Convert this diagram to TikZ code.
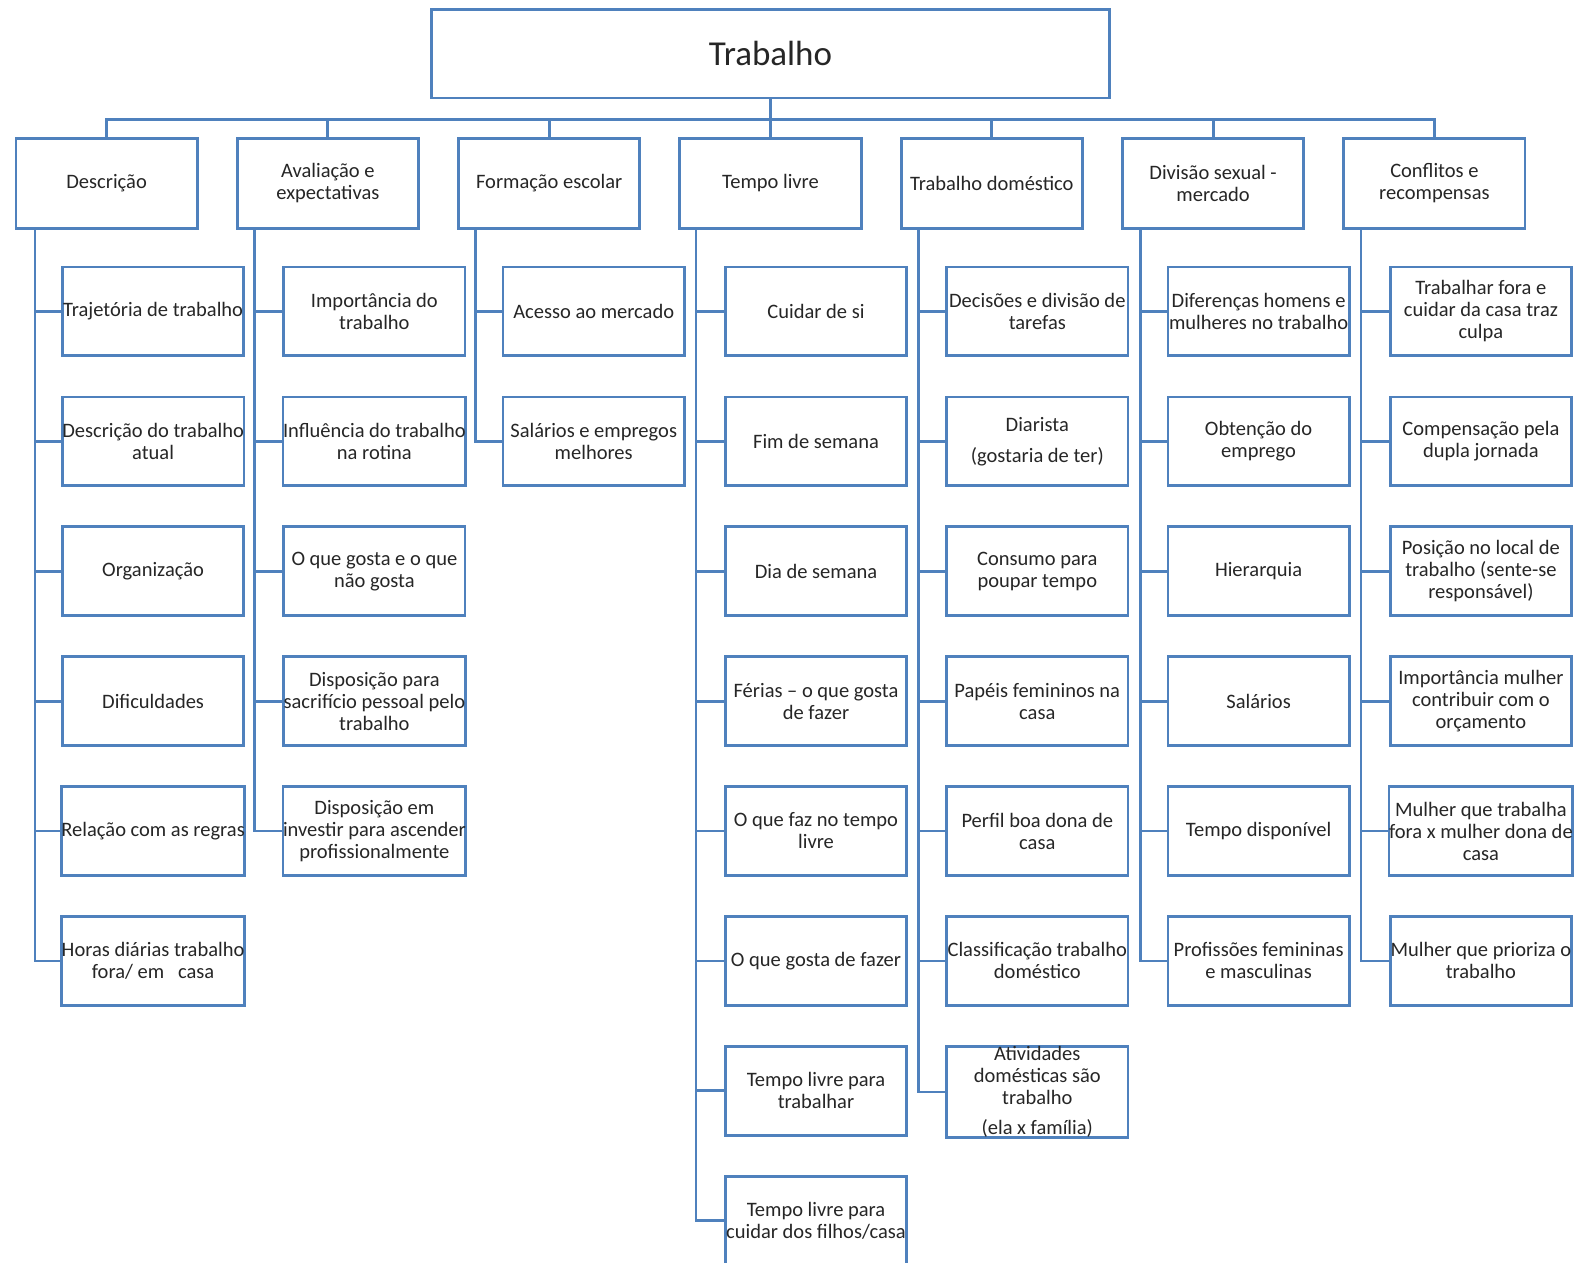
\documentclass[tikz,border=0pt]{standalone}
\usepackage{fontspec}
\setmainfont{Carlito}
\usepackage{tikz}
\usetikzlibrary{positioning}
\definecolor{Frame}{HTML}{4F81BD}
\definecolor{Ink}{HTML}{262626}
\tikzset{
  topbox/.style={
    draw=Frame,line width=2.8pt,fill=white,
    minimum width=678.5pt,minimum height=88.8pt,
    font=\fontsize{35}{40}\selectfont,text=Ink
  },
  groupbox/.style={
    draw=Frame,line width=2.8pt,fill=white,inner sep=0pt,
    minimum width=181.2pt,minimum height=89.5pt,align=center,
    font=\fontsize{20.5}{22}\selectfont,text=Ink
  },
  leaf/.style={groupbox,minimum height=88.8pt},
  link/.style={draw=Frame,line width=2.8pt}
}

\begin{document}
\begin{tikzpicture}[x=1pt,y=1pt,node distance=38.3pt]
  \useasboundingbox (-770.5,53.5) rectangle (811.5,-1208.5);
  \node[topbox] (root) at (0,0) {Trabalho};

  % themes
  \node[groupbox,below=38pt of root] (tempo) {Tempo livre};
  \node[groupbox,left=37.3pt of tempo] (form) {Formação escolar};
  \node[groupbox,left=37.3pt of form] (aval) {Avaliação e\\expectativas};
  \node[groupbox,left=37.3pt of aval] (desc) {Descrição};
  \node[groupbox,right=37.3pt of tempo] (dom) {Trabalho doméstico};
  \node[groupbox,right=37.3pt of dom] (div) {Divisão sexual -\\mercado};
  \node[groupbox,right=37.3pt of div] (conf) {Conflitos e\\recompensas};

  \draw[link] (root.south) -- ++(0,-20pt) -| (desc.north);
  \draw[link] (root.south) -- ++(0,-20pt) -| (aval.north);
  \draw[link] (root.south) -- ++(0,-20pt) -| (form.north);
  \draw[link] (root.south) -- (tempo.north);
  \draw[link] (root.south) -- ++(0,-20pt) -| (dom.north);
  \draw[link] (root.south) -- ++(0,-20pt) -| (div.north);
  \draw[link] (root.south) -- ++(0,-20pt) -| (conf.north);

  % Descricao
  \node[leaf,below right=36pt and 46.5pt of desc.south west] (desc1) {Trajetória de trabalho};
  \node[leaf,below=of desc1] (desc2) {Descrição do trabalho\\atual};
  \node[leaf,below=of desc2] (desc3) {Organização};
  \node[leaf,below=of desc3] (desc4) {Dificuldades};
  \node[leaf,below=of desc4] (desc5) {Relação com as regras};
  \node[leaf,below=of desc5] (desc6) {Horas diárias trabalho\\fora/ em\ \ \ casa};
  \draw[link] ([xshift=20.5pt]desc.south west) |- (desc1.west);
  \draw[link] ([xshift=20.5pt]desc.south west) |- (desc2.west);
  \draw[link] ([xshift=20.5pt]desc.south west) |- (desc3.west);
  \draw[link] ([xshift=20.5pt]desc.south west) |- (desc4.west);
  \draw[link] ([xshift=20.5pt]desc.south west) |- (desc5.west);
  \draw[link] ([xshift=20.5pt]desc.south west) |- (desc6.west);

  % Avaliacao
  \node[leaf,below right=36pt and 46.5pt of aval.south west] (aval1) {Importância do\\trabalho};
  \node[leaf,below=of aval1] (aval2) {Influência do trabalho\\na rotina};
  \node[leaf,below=of aval2] (aval3) {O que gosta e o que\\não gosta};
  \node[leaf,below=of aval3] (aval4) {Disposição para\\sacrifício pessoal pelo\\trabalho};
  \node[leaf,below=of aval4] (aval5) {Disposição em\\investir para ascender\\profissionalmente};
  \draw[link] ([xshift=18.5pt]aval.south west) |- (aval1.west);
  \draw[link] ([xshift=18.5pt]aval.south west) |- (aval2.west);
  \draw[link] ([xshift=18.5pt]aval.south west) |- (aval3.west);
  \draw[link] ([xshift=18.5pt]aval.south west) |- (aval4.west);
  \draw[link] ([xshift=18.5pt]aval.south west) |- (aval5.west);

  % Formacao
  \node[leaf,below right=36pt and 44.5pt of form.south west] (form1) {Acesso ao mercado};
  \node[leaf,below=of form1] (form2) {Salários e empregos\\melhores};
  \draw[link] ([xshift=18.5pt]form.south west) |- (form1.west);
  \draw[link] ([xshift=18.5pt]form.south west) |- (form2.west);

  % Tempo livre
  \node[leaf,below right=36pt and 45.5pt of tempo.south west] (tempo1) {Cuidar de si};
  \node[leaf,below=of tempo1] (tempo2) {Fim de semana};
  \node[leaf,below=of tempo2] (tempo3) {Dia de semana};
  \node[leaf,below=of tempo3] (tempo4) {Férias – o que gosta\\de fazer};
  \node[leaf,below=of tempo4] (tempo5) {O que faz no tempo\\livre};
  \node[leaf,below=of tempo5] (tempo6) {O que gosta de fazer};
  \node[leaf,below=of tempo6] (tempo7) {Tempo livre para\\trabalhar};
  \node[leaf,below=of tempo7] (tempo8) {Tempo livre para\\cuidar dos filhos/casa};
  \draw[link] ([xshift=17.5pt]tempo.south west) |- (tempo1.west);
  \draw[link] ([xshift=17.5pt]tempo.south west) |- (tempo2.west);
  \draw[link] ([xshift=17.5pt]tempo.south west) |- (tempo3.west);
  \draw[link] ([xshift=17.5pt]tempo.south west) |- (tempo4.west);
  \draw[link] ([xshift=17.5pt]tempo.south west) |- (tempo5.west);
  \draw[link] ([xshift=17.5pt]tempo.south west) |- (tempo6.west);
  \draw[link] ([xshift=17.5pt]tempo.south west) |- (tempo7.west);
  \draw[link] ([xshift=17.5pt]tempo.south west) |- (tempo8.west);

  % Trabalho domestico
  \node[leaf,below right=36pt and 45.5pt of dom.south west] (dom1) {Decisões e divisão de\\tarefas};
  \node[leaf,below=of dom1] (dom2) {Diarista\\[9pt](gostaria de ter)};
  \node[leaf,below=of dom2] (dom3) {Consumo para\\poupar tempo};
  \node[leaf,below=of dom3] (dom4) {Papéis femininos na\\casa};
  \node[leaf,below=of dom4] (dom5) {Perfil boa dona de\\casa};
  \node[leaf,below=of dom5] (dom6) {Classificação trabalho\\doméstico};
  \node[leaf,below=of dom6] (dom7) {Atividades\\domésticas são\\trabalho\\[8pt](ela x família)};
  \draw[link] ([xshift=18.5pt]dom.south west) |- (dom1.west);
  \draw[link] ([xshift=18.5pt]dom.south west) |- (dom2.west);
  \draw[link] ([xshift=18.5pt]dom.south west) |- (dom3.west);
  \draw[link] ([xshift=18.5pt]dom.south west) |- (dom4.west);
  \draw[link] ([xshift=18.5pt]dom.south west) |- (dom5.west);
  \draw[link] ([xshift=18.5pt]dom.south west) |- (dom6.west);
  \draw[link] ([xshift=18.5pt]dom.south west) |- (dom7.west);

  % Divisao sexual
  \node[leaf,below right=36pt and 45.5pt of div.south west] (div1) {Diferenças homens e\\mulheres no trabalho};
  \node[leaf,below=of div1] (div2) {Obtenção do\\emprego};
  \node[leaf,below=of div2] (div3) {Hierarquia};
  \node[leaf,below=of div3] (div4) {Salários};
  \node[leaf,below=of div4] (div5) {Tempo disponível};
  \node[leaf,below=of div5] (div6) {Profissões femininas\\e masculinas};
  \draw[link] ([xshift=19pt]div.south west) |- (div1.west);
  \draw[link] ([xshift=19pt]div.south west) |- (div2.west);
  \draw[link] ([xshift=19pt]div.south west) |- (div3.west);
  \draw[link] ([xshift=19pt]div.south west) |- (div4.west);
  \draw[link] ([xshift=19pt]div.south west) |- (div5.west);
  \draw[link] ([xshift=19pt]div.south west) |- (div6.west);

  % Conflitos
  \node[leaf,below right=36pt and 46.5pt of conf.south west] (conf1) {Trabalhar fora e\\cuidar da casa traz\\culpa};
  \node[leaf,below=of conf1] (conf2) {Compensação pela\\dupla jornada};
  \node[leaf,below=of conf2] (conf3) {Posição no local de\\trabalho (sente-se\\responsável)};
  \node[leaf,below=of conf3] (conf4) {Importância mulher\\contribuir com o\\orçamento};
  \node[leaf,below=of conf4] (conf5) {Mulher que trabalha\\fora x mulher dona de\\casa};
  \node[leaf,below=of conf5] (conf6) {Mulher que prioriza o\\trabalho};
  \draw[link] ([xshift=18.5pt]conf.south west) |- (conf1.west);
  \draw[link] ([xshift=18.5pt]conf.south west) |- (conf2.west);
  \draw[link] ([xshift=18.5pt]conf.south west) |- (conf3.west);
  \draw[link] ([xshift=18.5pt]conf.south west) |- (conf4.west);
  \draw[link] ([xshift=18.5pt]conf.south west) |- (conf5.west);
  \draw[link] ([xshift=18.5pt]conf.south west) |- (conf6.west);
\end{tikzpicture}
\end{document}
